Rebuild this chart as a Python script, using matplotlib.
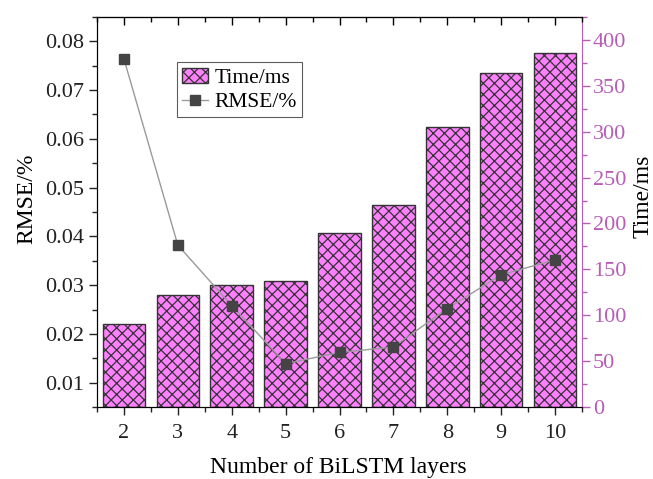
import numpy as np
import matplotlib
matplotlib.use("Agg")
import matplotlib.pyplot as plt
from matplotlib.ticker import MultipleLocator

plt.rcParams['font.family'] = ['Liberation Serif', 'DejaVu Serif']
plt.rcParams['hatch.linewidth'] = 0.9
plt.rcParams['hatch.color'] = '#222222'

layers = [2, 3, 4, 5, 6, 7, 8, 9, 10]
time_ms = [90, 122, 133, 137, 190, 220, 305, 364, 386]
rmse = [0.0764, 0.0382, 0.0258, 0.0139, 0.0162, 0.0173, 0.0252, 0.0321, 0.0352]

mag = '#B85CB8'

fig = plt.figure(figsize=(6.53, 4.79), dpi=100)
ax = fig.add_axes([97/653, 1-407/479, 485/653, 390/479])
ax2 = ax.twinx()

bars = ax2.bar(layers, time_ms, width=0.79, color='#FF80FF', edgecolor='#333333',
               linewidth=1.0, hatch='xxx', label='Time/ms')
line, = ax.plot(layers, rmse, color='#9a9a9a', lw=1.0, marker='s', ms=7,
                mfc='#444444', mec='#444444', label='RMSE/%')
ax.set_zorder(ax2.get_zorder() + 1)
ax.patch.set_visible(False)

ax.set_xlim(1.5, 10.5)
ax.set_ylim(0.005, 0.085)
ax2.set_ylim(0, 425)
ax.set_xticks(layers)
ax.xaxis.set_minor_locator(MultipleLocator(0.5))
ax.yaxis.set_major_locator(MultipleLocator(0.01))
ax.yaxis.set_minor_locator(MultipleLocator(0.005))
ax2.yaxis.set_major_locator(MultipleLocator(50))
ax2.yaxis.set_minor_locator(MultipleLocator(25))

ax.tick_params(axis='both', which='major', direction='out', length=6, width=1,
               labelsize=16, colors='#222222')
ax.tick_params(axis='both', which='minor', direction='out', length=3.5, width=1,
               colors='#222222')
ax.tick_params(axis='x', which='major', pad=6)
ax.tick_params(axis='y', which='both', right=False)
ax2.tick_params(axis='y', which='major', direction='out', length=6, width=1,
                labelsize=16, colors=mag, pad=2)
ax2.tick_params(axis='y', which='minor', direction='out', length=3.5, width=1, colors=mag)
ax2.spines['right'].set_color(mag)
ax.spines['right'].set_visible(False)

top = ax.secondary_xaxis('top')
top.set_xticks(layers)
top.xaxis.set_minor_locator(MultipleLocator(0.5))
top.tick_params(axis='x', which='major', direction='in', length=6, width=1, labeltop=False)
top.tick_params(axis='x', which='minor', direction='in', length=3.5, width=1)

ax.set_xlabel('Number of BiLSTM layers', fontsize=17, va='center')
ax.set_ylabel('RMSE/%', fontsize=17, va='center')
ax2.set_ylabel('Time/ms', fontsize=17, va='center')
ax.xaxis.set_label_coords(0.497, -0.154)
ax.yaxis.set_label_coords(-0.144, 0.535)
ax2.yaxis.set_label_coords(1.125, 0.54)

leg = ax.legend([bars, line], ['Time/ms', 'RMSE/%'], loc='upper left',
                bbox_to_anchor=(0.164, 0.884), fontsize=15.5, frameon=True, fancybox=False,
                edgecolor='#333333', handlelength=1.2, handletextpad=0.3,
                borderpad=0.25, labelspacing=0.2, borderaxespad=0)
leg.get_frame().set_linewidth(0.8)

fig.savefig('out.png', dpi=100)
